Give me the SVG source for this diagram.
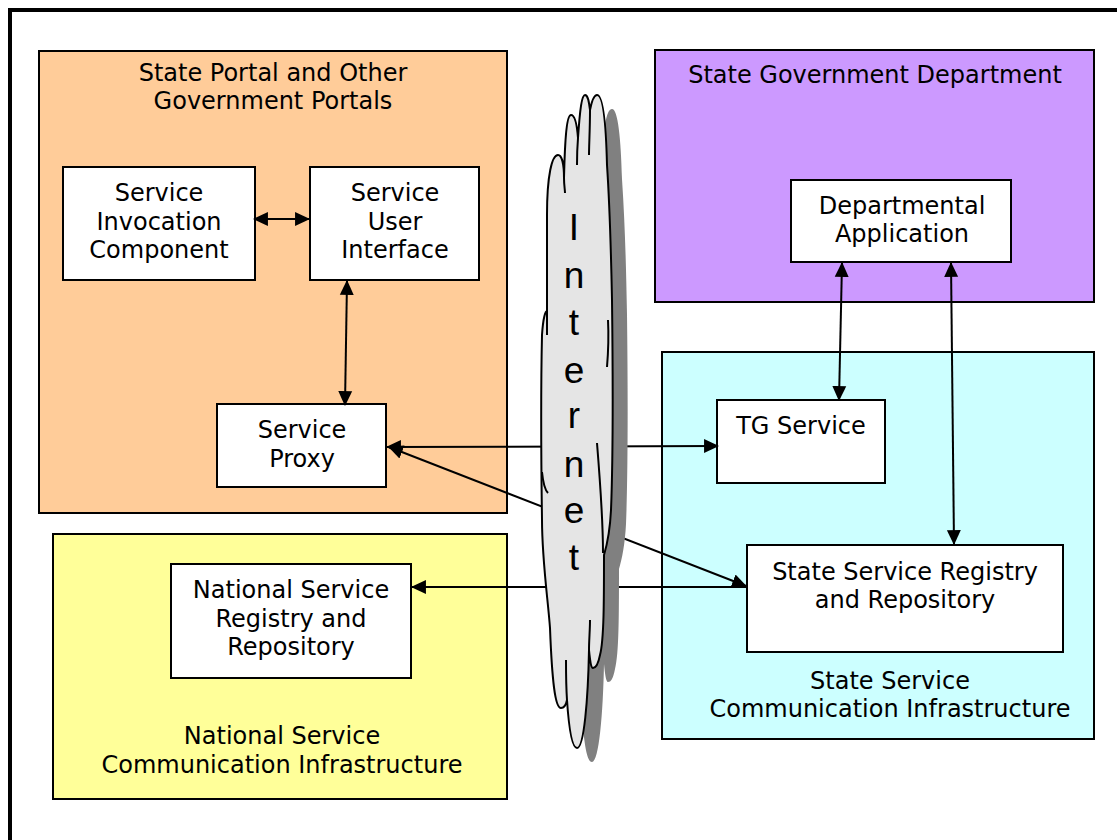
<svg xmlns="http://www.w3.org/2000/svg" xmlns:xlink="http://www.w3.org/1999/xlink" width="1117" height="840" viewBox="0 0 1117 840">
<style>
.grp{stroke:#000;stroke-width:2}
.box{fill:#fff;stroke:#000;stroke-width:2}
.t{font-family:"DejaVu Sans","Verdana",sans-serif;font-size:24px;fill:#000;text-anchor:middle}
.net{font-family:"Liberation Sans",Arial,sans-serif;font-size:37px;fill:#000;text-anchor:middle}
.con{stroke:#000;stroke-width:2;fill:none}
.both{marker-start:url(#ah);marker-end:url(#ah)}
.cl{fill:none;stroke:#000;stroke-width:2}
</style>
<defs>
<marker id="ah" viewBox="0 0 14 14" refX="13" refY="7" markerWidth="15" markerHeight="15" markerUnits="userSpaceOnUse" orient="auto-start-reverse">
<path d="M0,0.5 L14,7 L0,13.5 z" fill="#000"/>
</marker>
<path id="cloudShape" d="M547,311 C547,280 547,240 547,215 C547,175 552,155 558,155 C562,155 564,165 564,178 C565,135 567,115 571,115 C575,115 577,125 578,138 C580,108 582,95 585,95 C588,95 589,102 590,110 C592,100 594,95 597,95 C603,95 606,125 607,165 C610,210 611,250 612,300 C613,380 613,460 611,510 C610,530 607,545 604,555 C604,600 604,640 600,655 C598,665 596,668 593,668 C591,668 590,660 589,650 C588,700 584,748 577,748 C572,748 569,730 567,700 C566,705 564,708 561,708 C555,708 552,680 550,628 C548,600 542,560 542,520 C541,450 541,380 542,335 C543,320 545,311 547,311 Z"/>
</defs>

<rect x="10" y="10" width="1130" height="850" fill="#fff" stroke="#000" stroke-width="4"/>

<g id="state-portal">
<rect class="grp" x="39" y="51" width="468" height="462" fill="#FFCC99"/>
<text class="t" x="273" y="81">State Portal and Other</text>
<text class="t" x="273" y="109">Government Portals</text>
</g>
<g id="state-gov-dept">
<rect class="grp" x="655" y="50" width="439" height="252" fill="#CC99FF"/>
<text class="t" x="875" y="83">State Government Department</text>
</g>
<g id="state-service-infra">
<rect class="grp" x="662" y="352" width="432" height="387" fill="#CCFFFF"/>
<text class="t" x="890" y="689">State Service</text>
<text class="t" x="890" y="717">Communication Infrastructure</text>
</g>
<g id="national-service-infra">
<rect class="grp" x="53" y="534" width="454" height="265" fill="#FFFF99"/>
<text class="t" x="282" y="744">National Service</text>
<text class="t" x="282" y="773">Communication Infrastructure</text>
</g>

<g id="service-invocation-component">
<rect class="box" x="63" y="167" width="192" height="113"/>
<text class="t" x="159" y="201">Service</text>
<text class="t" x="159" y="230">Invocation</text>
<text class="t" x="159" y="258">Component</text>
</g>
<g id="service-user-interface">
<rect class="box" x="310" y="167" width="169" height="113"/>
<text class="t" x="395" y="201">Service</text>
<text class="t" x="395" y="230">User</text>
<text class="t" x="395" y="258">Interface</text>
</g>
<g id="service-proxy">
<rect class="box" x="217" y="404" width="169" height="83"/>
<text class="t" x="302" y="438">Service</text>
<text class="t" x="302" y="467">Proxy</text>
</g>
<g id="departmental-application">
<rect class="box" x="791" y="180" width="220" height="82"/>
<text class="t" x="902" y="214">Departmental</text>
<text class="t" x="902" y="242">Application</text>
</g>
<g id="tg-service">
<rect class="box" x="717" y="400" width="168" height="83"/>
<text class="t" x="801" y="434">TG Service</text>
</g>
<g id="state-service-registry">
<rect class="box" x="747" y="545" width="316" height="107"/>
<text class="t" x="905" y="580">State Service Registry</text>
<text class="t" x="905" y="608">and Repository</text>
</g>
<g id="national-service-registry">
<rect class="box" x="171" y="564" width="240" height="114"/>
<text class="t" x="291" y="598">National Service</text>
<text class="t" x="291" y="627">Registry and</text>
<text class="t" x="291" y="655">Repository</text>
</g>

<g id="connectors">
<line class="con both" x1="254" y1="219" x2="309" y2="219"/>
<line class="con both" x1="347" y1="281" x2="345" y2="405"/>
<line class="con both" x1="842" y1="263" x2="839" y2="400"/>
<line class="con both" x1="951" y1="263" x2="954" y2="544"/>
<line class="con both" x1="387" y1="447" x2="718" y2="446"/>
<line class="con both" x1="389" y1="447" x2="746" y2="586"/>
<line class="con" x1="412" y1="587" x2="746" y2="587" marker-start="url(#ah)"/>
</g>

<g id="internet">
<use xlink:href="#cloudShape" href="#cloudShape" transform="translate(15,14)" fill="#808080"/>
<use xlink:href="#cloudShape" href="#cloudShape" fill="#E5E5E5" stroke="#000" stroke-width="2"/>
<path class="cl" d="M564,178 C564,185 565,190 565,193"/>
<path class="cl" d="M578,138 C577,150 577,158 577,165"/>
<path class="cl" d="M590,110 C590,130 589,145 589,155"/>
<path class="cl" d="M547,311 L547,335"/>
<path class="cl" d="M608,320 C609,340 608,355 607,367"/>
<path class="cl" d="M597,443 C600,480 603,520 603,553"/>
<path class="cl" d="M542,472 C543,482 545,490 548,493"/>
<path class="cl" d="M567,700 C566,685 566,670 566,660"/>
<path class="cl" d="M589,650 C589,640 590,630 590,620"/>
<text class="net" x="574"><tspan x="574" y="240">I</tspan><tspan x="574" y="288">n</tspan><tspan x="574" y="335">t</tspan><tspan x="574" y="383">e</tspan><tspan x="574" y="428">r</tspan><tspan x="574" y="477">n</tspan><tspan x="574" y="523">e</tspan><tspan x="574" y="570">t</tspan></text>
</g>
</svg>
